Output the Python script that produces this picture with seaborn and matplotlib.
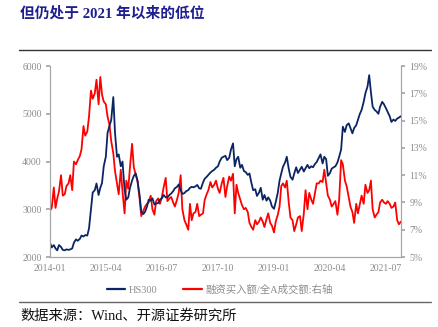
import matplotlib
matplotlib.use("Agg")
import matplotlib.pyplot as plt
import matplotlib.dates as mdates
from matplotlib.lines import Line2D
import numpy as np
import pandas as pd
import seaborn as sns

# HS300 index level, twice a month (1st and 16th), 2014-01 .. 2021-11
hs300_2014 = [2300, 2200, 2250, 2180, 2140, 2250, 2210, 2150, 2140, 2160, 2150, 2160,
              2180, 2300, 2370, 2340, 2380, 2450, 2430, 2460, 2450, 2600, 3000, 3350]
hs300_2015 = [3400, 3540, 3300, 3450, 3550, 3900, 4100, 4600, 4750, 4870, 5350, 4600,
              4100, 4150, 3900, 4000, 3400, 3200, 3250, 3450, 3600, 3700, 3750, 3600]
hs300_2016 = [3300, 2950, 2900, 2950, 3050, 3200, 3180, 3230, 3100, 3120, 3130, 3200,
              3230, 3300, 3250, 3250, 3300, 3330, 3380, 3440, 3470, 3520, 3400, 3320]
hs300_2017 = [3340, 3380, 3400, 3450, 3470, 3460, 3480, 3510, 3440, 3430, 3560, 3640,
              3680, 3720, 3770, 3800, 3830, 3870, 3900, 4000, 4080, 4100, 4120, 4030]
hs300_2018 = [4080, 4250, 4380, 3900, 4050, 4100, 3870, 3930, 3800, 3780, 3720, 3750,
              3550, 3400, 3420, 3280, 3350, 3450, 3200, 3300, 3180, 3250, 3180, 3060]
hs300_2019 = [3010, 3150, 3350, 3600, 3750, 3890, 3980, 4100, 3850, 3680, 3620, 3750,
              3880, 3760, 3830, 3890, 3790, 3860, 3930, 3860, 3900, 3880, 3950, 3990]
hs300_2020 = [4080, 4150, 3960, 4100, 4050, 3700, 3760, 3850, 3880, 3900, 3980, 4100,
              4250, 4730, 4620, 4760, 4800, 4700, 4590, 4700, 4760, 4870, 5000, 5080]
hs300_2021 = [5250, 5430, 5570, 5810, 5450, 5150, 5080, 5050, 5000, 5150, 5250, 5200,
              5120, 5040, 4950, 4830, 4880, 4850, 4900, 4920, 4950]

# margin purchases / total A-share turnover, %
margin_2014 = [8.4, 8.6, 10.1, 8.6, 9.3, 9.8, 11.0, 9.5, 9.6, 10.2, 10.4, 11.0,
               9.9, 12.0, 11.8, 12.1, 12.4, 12.9, 14.6, 13.9, 14.2, 15.3, 17.2, 16.6]
margin_2015 = [17.0, 18.0, 16.2, 18.2, 16.9, 16.4, 16.2, 15.3, 14.7, 13.5, 12.6, 11.3,
               10.4, 9.6, 11.4, 9.8, 8.2, 10.6, 10.0, 11.6, 13.3, 11.6, 11.0, 10.6]
margin_2016 = [9.3, 8.0, 8.4, 8.7, 8.9, 9.0, 9.5, 8.5, 8.1, 9.1, 9.3, 8.9,
               9.4, 10.1, 10.8, 9.1, 9.3, 9.4, 9.0, 8.7, 9.2, 9.7, 11.0, 8.5]
margin_2017 = [7.7, 7.4, 7.0, 8.9, 7.7, 8.2, 8.3, 8.9, 8.0, 8.1, 8.2, 9.2,
               9.6, 9.9, 10.5, 10.1, 10.3, 10.6, 10.0, 9.7, 10.4, 10.8, 9.4, 10.2]
margin_2018 = [10.9, 10.6, 11.1, 8.2, 10.3, 9.7, 9.2, 8.8, 8.5, 8.6, 8.3, 7.5,
               7.2, 7.0, 7.7, 7.4, 7.6, 7.9, 7.6, 7.2, 7.8, 8.2, 7.5, 7.3]
margin_2019 = [6.8, 7.6, 8.1, 8.7, 10.2, 10.4, 10.1, 10.6, 9.0, 7.9, 7.7, 6.9,
               7.4, 7.9, 8.0, 6.9, 8.2, 9.9, 8.5, 9.7, 9.2, 8.9, 9.7, 10.4]
margin_2020 = [10.4, 10.6, 10.5, 11.4, 10.4, 9.5, 9.2, 8.7, 8.9, 9.1, 8.1, 9.2,
               12.1, 11.8, 10.6, 10.2, 9.4, 8.7, 8.3, 7.5, 8.9, 8.2, 8.9, 9.5]
margin_2021 = [8.9, 10.3, 9.7, 9.9, 10.6, 8.5, 7.9, 8.1, 8.3, 9.0, 9.2, 9.0,
               8.9, 9.1, 8.9, 8.6, 8.7, 9.0, 7.7, 7.4, 7.6]

left_ticks = [2000, 3000, 4000, 5000, 6000]
right_ticks = [5, 7, 9, 11, 13, 15, 17, 19]
x_tick_labels = ["2014-01", "2015-04", "2016-07", "2017-10", "2019-01", "2020-04", "2021-07"]

title_text = "但仍处于 2021 年以来的低位"
source_text = "数据来源：Wind、开源证券研究所"
label_hs300 = "HS300"
label_margin = "融资买入额/全A成交额:右轴"

hs300 = sum([hs300_2014, hs300_2015, hs300_2016, hs300_2017,
             hs300_2018, hs300_2019, hs300_2020, hs300_2021], [])
margin = sum([margin_2014, margin_2015, margin_2016, margin_2017,
              margin_2018, margin_2019, margin_2020, margin_2021], [])
dates = pd.date_range("2014-01-01", periods=len(hs300), freq="SMS")
df = pd.DataFrame({"date": dates, "hs300": hs300, "margin": margin})

sns.set_theme(style="white")
serif_cjk = ["Liberation Serif", "Noto Sans CJK SC", "DejaVu Sans"]
plt.rcParams["font.family"] = serif_cjk

navy = "#0b2463"
red = "#ff0000"
grey_txt = "#8c8c8c"
spine_c = "#a6a6a6"

fig = plt.figure(figsize=(4.39, 3.27), dpi=100)
ax = fig.add_axes([0.1139, 0.214, 0.7995, 0.584])
ax2 = ax.twinx()

sns.lineplot(data=df, x="date", y="hs300", ax=ax, color=navy, linewidth=1.3)
sns.lineplot(data=df, x="date", y="margin", ax=ax2, color=red, linewidth=1.3)
ax.set_zorder(ax2.get_zorder() + 1)
ax.patch.set_visible(False)

ax.set_xlim(pd.Timestamp("2014-01-01"), pd.Timestamp("2021-11-01"))
ax.set_ylim(2000, 6000)
ax2.set_ylim(5, 19)
ax.set_yticks(left_ticks)
ax2.set_yticks(right_ticks)
ax2.set_yticklabels([f"{v}%" for v in right_ticks])
xt = [pd.Timestamp(s + "-01") for s in x_tick_labels]
ax.set_xticks(xt)
ax.set_xticklabels(x_tick_labels)

for a in (ax, ax2):
    a.set_xlabel("")
    a.set_ylabel("")
    a.grid(False)
    for s in a.spines.values():
        s.set_color(spine_c)
        s.set_linewidth(0.8)
    a.spines["top"].set_visible(False)

ax.tick_params(axis="x", direction="in", length=3, color=spine_c, labelsize=7,
               labelcolor=grey_txt, pad=5)
ax.tick_params(axis="y", direction="out", length=3, color=spine_c, labelsize=7,
               labelcolor=grey_txt, pad=3)
ax2.tick_params(axis="y", direction="out", length=3, color=spine_c, labelsize=7,
                labelcolor=grey_txt, pad=3)

# header, rules and footer
fig.text(20 / 439, 1 - 13 / 327, title_text, fontsize=10.6, fontweight="bold",
         color="#1f1f90", va="center", ha="left", family=serif_cjk)
fig.add_artist(Line2D([19 / 439, 431 / 439], [1 - 50 / 327] * 2, color="#333333", lw=1.0))
fig.add_artist(Line2D([19 / 439, 431 / 439], [1 - 302 / 327] * 2, color="#666666", lw=1.0))
fig.text(20 / 439, 1 - 316 / 327, source_text, fontsize=10.3, color="#111111",
         va="center", ha="left", family=serif_cjk)

handles = [Line2D([], [], color=navy, lw=1.6), Line2D([], [], color=red, lw=1.6)]
fig.legend(handles, [label_hs300, label_margin], loc="center", ncol=2,
           bbox_to_anchor=(0.5, 1 - 290 / 327), frameon=False, handlelength=1.8,
           handletextpad=0.3, columnspacing=2.5,
           prop={"family": serif_cjk, "size": 7.5}, labelcolor=grey_txt)

fig.savefig("out.png", dpi=100)
